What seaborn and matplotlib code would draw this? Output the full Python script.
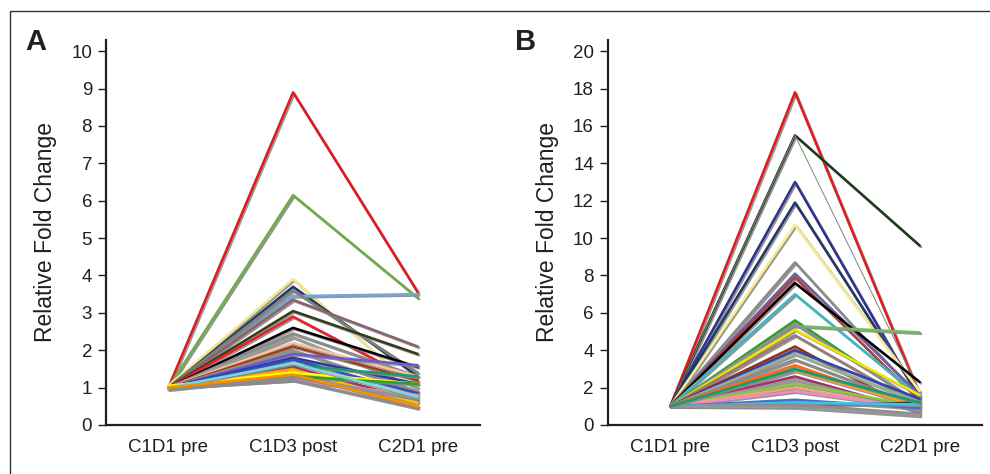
import matplotlib
matplotlib.use("Agg")
import matplotlib.pyplot as plt
import matplotlib.patheffects as pe
from matplotlib.patches import Rectangle
import pandas as pd
import seaborn as sns

categories = ["C1D1 pre", "C1D3 post", "C2D1 pre"]

# Panel A - relative fold change per patient
a_pre = [1.0, 1.0, 1.05, 1.0, 1.0, 1.0, 1.0, 1.0, 1.0, 1.0, 1.0, 1.0, 1.0, 1.0, 1.0,
         1.0, 1.0, 1.0, 1.0, 1.0, 1.0, 1.0, 1.05, 1.0, 1.0, 1.0, 0.95, 1.0, 1.0]
a_post = [8.9, 6.15, 3.9, 3.7, 3.45, 3.6, 3.35, 3.05, 2.9, 2.6, 2.45, 2.35, 2.2, 2.1, 2.0,
          1.9, 1.8, 1.75, 1.6, 1.55, 1.5, 1.45, 1.4, 1.3, 1.2, 1.2, 1.3, 1.65, 1.35]
a_c2d1 = [3.55, 3.4, 0.9, 1.3, 3.5, 1.4, 2.1, 1.9, 1.15, 1.55, 1.3, 1.0, 1.3, 1.2, 0.9,
          1.6, 1.1, 0.85, 1.3, 0.65, 0.5, 0.6, 1.1, 1.1, 0.8, 0.45, 0.7, 0.75, 0.5]
a_colors = ["#e31a1c", "#70ad47", "#f5e68c", "#1f3864", "#6fa8dc", "#7f7f7f", "#8c6464",
            "#333d1a", "#ee1c25", "#000000", "#8a8a8a", "#9a9a9a", "#f8c49c", "#a0401c",
            "#8f8f8f", "#6a5acd", "#2b3a9e", "#3050c0", "#1a9a6a", "#a0306e", "#f39c12",
            "#ffc000", "#ffff00", "#2ca02c", "#e88fb0", "#8c8c8c", "#959595", "#7fd6d6",
            "#ff8c00"]

# Panel B - relative fold change per patient
b_pre = [1.0] * 33
b_post = [17.8, 15.5, 15.5, 13.0, 11.9, 10.7, 8.7, 8.1, 7.9, 7.6, 7.0, 5.6, 5.3, 5.4,
          5.1, 4.8, 4.2, 4.0, 3.8, 3.5, 3.2, 2.9, 2.6, 2.4, 2.2, 2.0, 1.8, 1.35, 1.0,
          1.2, 1.1, 0.95, 3.0]
b_c2d1 = [1.6, 9.6, 1.8, 1.4, 1.5, 1.8, 1.4, 1.6, 1.3, 2.3, 1.5, 1.1, 4.95, 1.2,
          1.6, 1.0, 0.6, 1.4, 1.2, 1.0, 0.9, 1.0, 0.7, 0.8, 1.0, 0.8, 0.9, 0.9, 1.2,
          1.1, 0.6, 0.5, 1.2]
b_colors = ["#e31a1c", "#1e3a1e", "#808080", "#2e3192", "#1f3864", "#f6ee8e", "#8c8c8c",
            "#6c5fa7", "#b04040", "#000000", "#3cb8c0", "#2ca02c", "#74b95d", "#909090",
            "#f2e600", "#9a7a7a", "#9c3010", "#2f45b0", "#9ab090", "#8a8a8a", "#ff6a13",
            "#f7a030", "#a0306e", "#999999", "#8dc63f", "#f0a080", "#f08cc0", "#4472c4",
            "#2a3a1a", "#40c0f0", "#8e8e8e", "#979797", "#1a9a6a"]


def long_table(pre, post, c2):
    rows = []
    for i, vals in enumerate(zip(pre, post, c2)):
        for j, v in enumerate(vals):
            rows.append({"pid": i, "visit": j, "fc": v})
    return pd.DataFrame(rows)


sns.set_style("white")
plt.rcParams["font.family"] = ["Liberation Sans", "DejaVu Sans"]

fig = plt.figure(figsize=(9.9, 4.74), dpi=100)
axA = fig.add_axes([0.107, 0.1034, 0.378, 0.8122])
axB = fig.add_axes([0.614, 0.1034, 0.378, 0.8122])

panels = [
    (axA, a_pre, a_post, a_c2d1, a_colors, 10.3, range(0, 11, 1), "A", 0.026, None),
    (axB, b_pre, b_post, b_c2d1, b_colors, 20.6, range(0, 21, 2), "B", 0.520, 2),
]

for ax, pre, post, c2, cols, ytop, yt, letter, lx, thin in panels:
    df = long_table(pre, post, c2)
    sns.lineplot(data=df, x="visit", y="fc", hue="pid", palette=cols,
                 estimator=None, sort=False, legend=False, linewidth=1.8, ax=ax)
    for ln in ax.lines:
        ln.set_path_effects([pe.SimpleLineShadow(offset=(1.0, -1.0), shadow_color="#8a8a8a", alpha=0.9),
                             pe.Normal()])
    if thin is not None:
        ax.lines[thin].set_linewidth(0.7)
        ax.lines[thin].set_path_effects([])
    ax.set_xlim(-0.5, 2.5)
    ax.set_ylim(0, ytop)
    ax.set_yticks(list(yt))
    ax.set_xticks([0, 1, 2], categories)
    ax.set_xticks([-0.5, 0.5, 1.5, 2.5], minor=True)
    ax.tick_params(axis="x", which="major", length=0, pad=10, labelsize=13.5, colors="#231f20")
    ax.tick_params(axis="x", which="minor", length=6, width=1.0, direction="out", color="#231f20")
    ax.tick_params(axis="y", length=6, width=1.0, pad=4, direction="out", labelsize=13.5,
                   colors="#231f20", left=True)
    ax.set_xlabel("")
    ax.set_ylabel("Relative Fold Change", fontsize=16.5, color="#231f20", labelpad=10)
    for s in ["top", "right"]:
        ax.spines[s].set_visible(False)
    for s in ["left", "bottom"]:
        ax.spines[s].set_linewidth(1.6)
        ax.spines[s].set_color("#231f20")
    fig.text(lx, 0.8945, letter, fontsize=21, fontweight="bold", color="#231f20")

fig.add_artist(Rectangle((0.0101, -0.2), 1.5, 0.9768 + 0.2, transform=fig.transFigure,
                         fill=False, lw=1.0, ec="#333333"))

fig.savefig("out.png", dpi=100)
